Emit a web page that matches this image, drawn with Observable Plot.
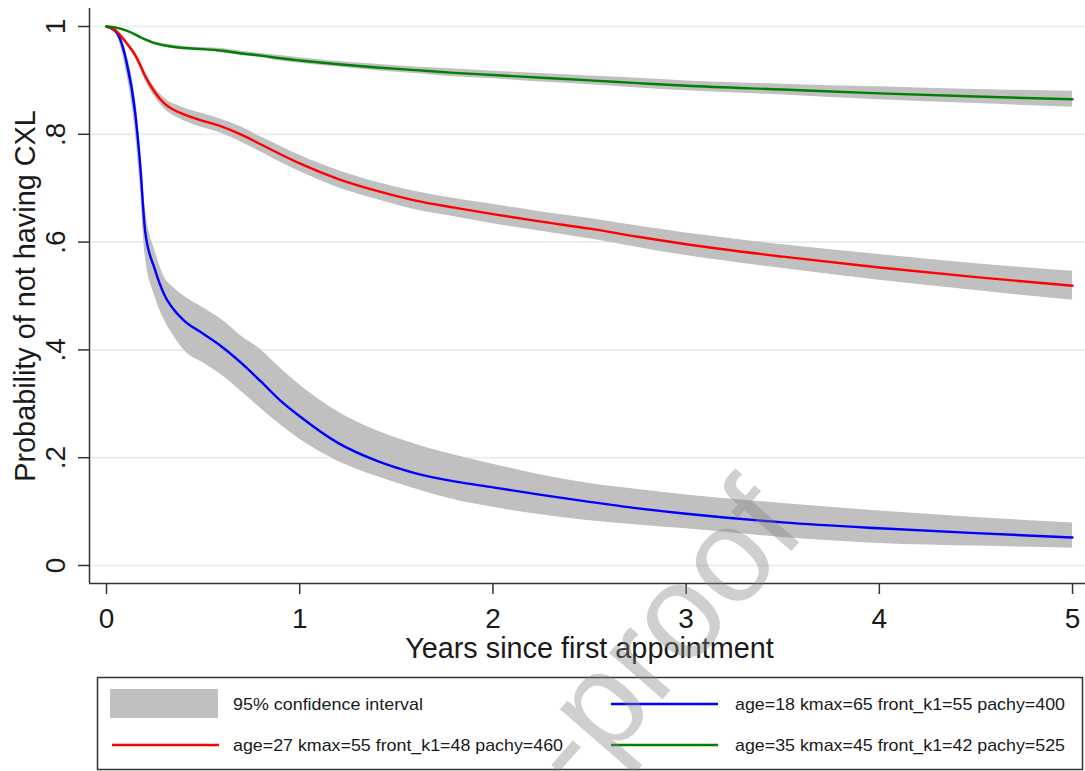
<!DOCTYPE html>
<html><head><meta charset="utf-8">
<script src="https://cdn.jsdelivr.net/npm/d3@7"></script>
<script src="https://cdn.jsdelivr.net/npm/@observablehq/plot@0.6"></script>
<style>
html,body{margin:0;padding:0;background:#fff;}
#wrap{position:relative;width:1085px;height:771px;overflow:hidden;font-family:"Liberation Sans",Arial,sans-serif;}
#wrap svg{display:block;}
#overlay{position:absolute;left:0;top:0;pointer-events:none;}
</style></head><body><div id="wrap"></div>
<script>
// ---- data ----
const years = [0, 0.05, 0.1, 0.15, 0.175, 0.2, 0.25, 0.3, 0.35, 0.4, 0.5, 0.6, 0.7, 0.8, 0.9, 1.0, 1.2, 1.4, 1.6, 1.8, 2.0, 2.25, 2.5, 2.75, 3.0, 3.5, 4.0, 4.5, 5.0];

const blueMid = [1.0, 0.99, 0.94, 0.835, 0.74, 0.62, 0.55, 0.502, 0.474, 0.455, 0.430, 0.405, 0.375, 0.341, 0.306, 0.277, 0.227, 0.194, 0.171, 0.156, 0.145, 0.131, 0.118, 0.106, 0.096, 0.080, 0.069, 0.060, 0.052];
const blueLo  = [1.0, 0.985, 0.92, 0.80, 0.70, 0.575, 0.50, 0.455, 0.425, 0.400, 0.376, 0.352, 0.322, 0.291, 0.261, 0.234, 0.193, 0.165, 0.142, 0.122, 0.108, 0.094, 0.083, 0.075, 0.068, 0.052, 0.041, 0.036, 0.032];
const blueHi  = [1.0, 0.995, 0.955, 0.865, 0.78, 0.665, 0.585, 0.535, 0.515, 0.50, 0.478, 0.455, 0.425, 0.40, 0.366, 0.335, 0.285, 0.25, 0.225, 0.205, 0.188, 0.168, 0.152, 0.141, 0.131, 0.115, 0.101, 0.089, 0.079];

const redMid = [1.0, 0.992, 0.971, 0.946, 0.928, 0.908, 0.878, 0.857, 0.845, 0.837, 0.825, 0.814, 0.799, 0.781, 0.763, 0.746, 0.717, 0.695, 0.677, 0.664, 0.652, 0.638, 0.625, 0.610, 0.596, 0.573, 0.553, 0.535, 0.519];
const redLo  = [1.0, 0.990, 0.967, 0.940, 0.921, 0.900, 0.869, 0.847, 0.834, 0.825, 0.812, 0.801, 0.785, 0.767, 0.748, 0.731, 0.701, 0.679, 0.660, 0.647, 0.634, 0.620, 0.606, 0.590, 0.575, 0.551, 0.529, 0.510, 0.492];
const redHi  = [1.0, 0.994, 0.975, 0.952, 0.935, 0.916, 0.887, 0.867, 0.856, 0.849, 0.838, 0.827, 0.813, 0.795, 0.778, 0.761, 0.733, 0.711, 0.694, 0.681, 0.670, 0.656, 0.644, 0.630, 0.617, 0.595, 0.577, 0.560, 0.546];

const greenMid = [1.0, 0.998, 0.993, 0.985, 0.980, 0.976, 0.969, 0.965, 0.962, 0.960, 0.958, 0.955, 0.950, 0.946, 0.941, 0.937, 0.930, 0.924, 0.919, 0.914, 0.910, 0.905, 0.900, 0.895, 0.890, 0.883, 0.876, 0.870, 0.865];
const greenLo  = [1.0, 0.997, 0.992, 0.983, 0.978, 0.974, 0.967, 0.962, 0.959, 0.957, 0.955, 0.951, 0.946, 0.942, 0.936, 0.932, 0.925, 0.918, 0.913, 0.907, 0.903, 0.897, 0.892, 0.886, 0.881, 0.873, 0.864, 0.857, 0.850];
const greenHi  = [1.0, 0.999, 0.994, 0.987, 0.982, 0.978, 0.971, 0.968, 0.965, 0.963, 0.961, 0.959, 0.954, 0.950, 0.946, 0.942, 0.935, 0.930, 0.925, 0.921, 0.917, 0.913, 0.908, 0.904, 0.899, 0.893, 0.888, 0.883, 0.880];

const seriesNames = ["age=18 kmax=65 front_k1=55 pachy=400", "age=27 kmax=55 front_k1=48 pachy=460", "age=35 kmax=45 front_k1=42 pachy=525"];
const seriesColors = ["#0000ff", "#ff0000", "#008000"];
const ciLabel = "95% confidence interval";
const xTicks = [0, 1, 2, 3, 4, 5];
const yTicks = [0, 0.2, 0.4, 0.6, 0.8, 1];
const yTickLabels = ["0", ".2", ".4", ".6", ".8", "1"];
const xTitle = "Years since first appointment";
const yTitle = "Probability of not having CXL";
const watermark = "-proof";

// ---- build tables ----
const mids = [blueMid, redMid, greenMid], los = [blueLo, redLo, greenLo], his = [blueHi, redHi, greenHi];
const rows = [];
seriesNames.forEach((name, s) => {
  years.forEach((t, i) => rows.push({series: name, t, mid: mids[s][i], lo: los[s][i], hi: his[s][i]}));
});
const bySeries = name => rows.filter(r => r.series === name);

const xDom = [-0.088, 5.067];
const yDom = [-0.0334, 1.0334];
const font = '"Liberation Sans", Arial, Helvetica, sans-serif';
const ink = "#1a1a1a";

const marks = [
  Plot.gridY(yTicks, {stroke: "#e6eff2", strokeOpacity: 1, strokeWidth: 2})
];
seriesNames.forEach(name => {
  marks.push(Plot.areaY(bySeries(name), {x: "t", y1: "lo", y2: "hi", fill: "#c0c0c0", curve: "monotone-x"}));
});
seriesNames.forEach((name, s) => {
  marks.push(Plot.line(bySeries(name), {x: "t", y: "mid", stroke: seriesColors[s], strokeWidth: 2.4, curve: "monotone-x"}));
});
marks.push(
  Plot.ruleX([xDom[0]], {stroke: "#333", strokeWidth: 1.5}),
  Plot.ruleY([yDom[0]], {stroke: "#333", strokeWidth: 1.5}),
  Plot.axisX(xTicks, {tickSize: 11, tickPadding: 14, fontSize: 28, stroke: "#333", strokeWidth: 1.5, fill: ink, tickFormat: d => String(d)}),
  Plot.axisY(yTicks, {tickSize: 11, stroke: "#333", strokeWidth: 1.5, tickFormat: () => ""}),
  Plot.text(yTicks, {x: xDom[0], y: d => d, text: (d, i) => yTickLabels[i], rotate: -90, dx: -33, fontSize: 28, textAnchor: "middle", lineAnchor: "middle", fill: ink}),
  Plot.text([xTitle], {frameAnchor: "bottom", dy: 74, dx: 2, lineAnchor: "bottom", fontSize: 28.8, fill: ink}),
  Plot.text([yTitle], {frameAnchor: "left", dx: -55, rotate: -90, lineAnchor: "bottom", textAnchor: "middle", fontSize: 28.8, fill: ink})
);

const chart = Plot.plot({
  width: 1085, height: 672,
  marginLeft: 89, marginRight: 0, marginTop: 8, marginBottom: 89,
  x: {domain: xDom, label: null},
  y: {domain: yDom, label: null},
  style: {fontFamily: font, background: "white", color: ink, overflow: "visible"},
  marks
});
const wrap = document.getElementById("wrap");
wrap.appendChild(chart);

// ---- legend + watermark overlay ----
const ov = d3.create("svg").attr("id", "overlay").attr("width", 1085).attr("height", 771)
  .style("font-family", font);
const lg = ov.append("g");
lg.append("rect").attr("x", 97.5).attr("y", 677.5).attr("width", 985).attr("height", 92)
  .attr("fill", "white").attr("stroke", "#333").attr("stroke-width", 1.5);
lg.append("rect").attr("x", 110).attr("y", 689).attr("width", 108).attr("height", 29).attr("fill", "#c0c0c0");
const legendLines = [
  {x: 611, y: 704, c: seriesColors[0], label: seriesNames[0], tx: 735, ty: 710},
  {x: 112, y: 745, c: seriesColors[1], label: seriesNames[1], tx: 233, ty: 751},
  {x: 611, y: 745, c: seriesColors[2], label: seriesNames[2], tx: 735, ty: 751}
];
legendLines.forEach(d => {
  lg.append("line").attr("x1", d.x).attr("x2", d.x + 107).attr("y1", d.y).attr("y2", d.y)
    .attr("stroke", d.c).attr("stroke-width", 2.5);
  lg.append("text").attr("x", d.tx).attr("y", d.ty).attr("font-size", 17).attr("fill", ink)
    .attr("textLength", 330).attr("lengthAdjust", "spacingAndGlyphs").text(d.label);
});
lg.append("text").attr("x", 233).attr("y", 710).attr("font-size", 17).attr("fill", ink)
  .attr("textLength", 190).attr("lengthAdjust", "spacingAndGlyphs").text(ciLabel);

ov.append("text").attr("transform", "translate(808,532) rotate(-49)")
  .attr("text-anchor", "end").attr("font-size", 134).attr("fill", "#808080").attr("fill-opacity", 0.38)
  .text(watermark);

wrap.appendChild(ov.node());
</script></body></html>
